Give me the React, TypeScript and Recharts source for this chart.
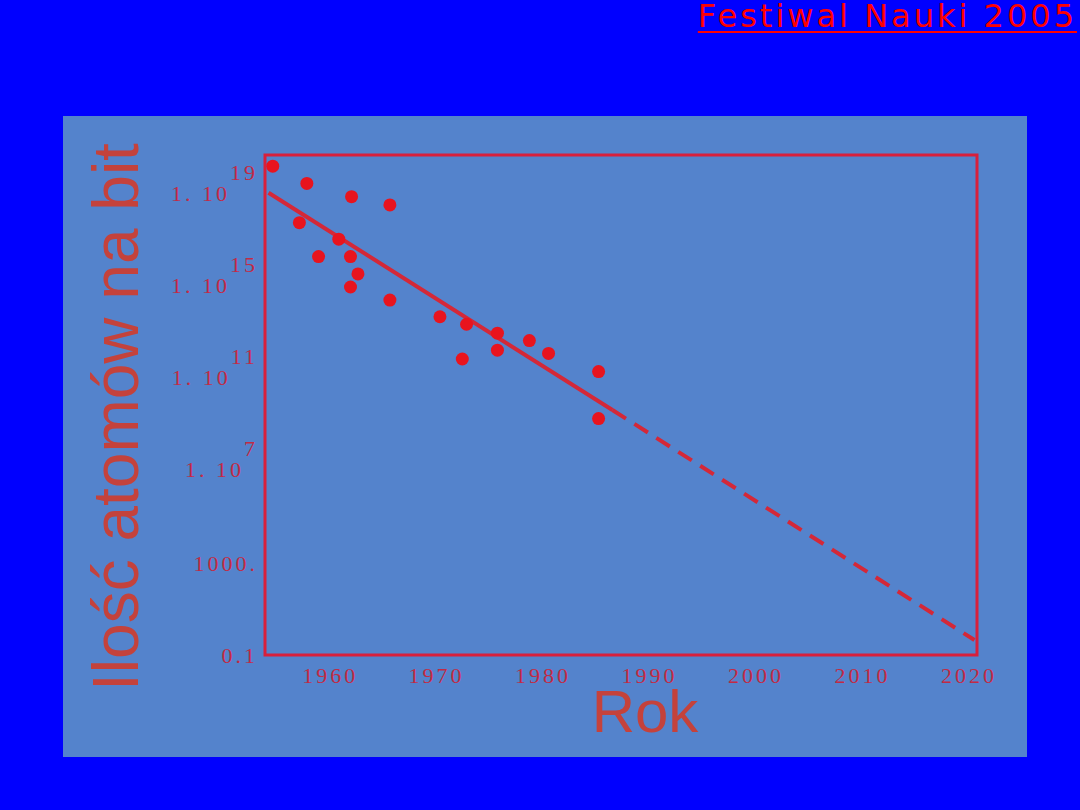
import {
  ComposedChart,
  Line,
  ReferenceArea,
  Scatter,
  XAxis,
  YAxis,
} from "recharts";

// measured storage densities (year, atoms per bit)
const measuredYears = [
  1954.8, 1958.0, 1962.2, 1965.8, 1957.3, 1961.0, 1959.1, 1962.1, 1962.8, 1962.1,
  1965.8, 1970.5, 1973.0, 1975.9, 1978.9, 1975.9, 1980.7, 1972.6, 1985.4, 1985.4,
];
const measuredAtoms = [
  1.8e20, 3.2e19, 8.5e18, 3.7e18, 6.3e17, 1.2e17, 2.1e16, 2.1e16, 3.7e15, 1.0e15,
  2.7e14, 5.1e13, 2.4e13, 9.8e12, 4.7e12, 1.8e12, 1.3e12, 7.4e11, 2.1e11, 1.9e9,
];

// fitted trend and its extrapolation
const trendYears = [1954.4, 1986.7];
const trendAtoms = [1.26e19, 4.5e9];
const projectionYears = [1986.7, 2020.7];
const projectionAtoms = [4.5e9, 0.45];

const yearTicks = [1960, 1970, 1980, 1990, 2000, 2010, 2020];
const atomTicks = [0.1, 1000, 1e7, 1e11, 1e15, 1e19];
const yearRange = [1954.07, 2020.94];
const atomRange = [0.1, 5.5e20];

const measured = measuredYears.map((year, i) => ({ year, atoms: measuredAtoms[i] }));
const trend = trendYears.map((year, i) => ({ year, atoms: trendAtoms[i] }));
const projection = projectionYears.map((year, i) => ({
  year,
  atoms: projectionAtoms[i],
}));

const RED = "#d8203c";
const TICK_RED = "#c22a44";
const TITLE_RED = "#c4423c";
const tickFont = "'Liberation Serif', serif";

function AtomTick({ x, y, payload }: { x?: number; y?: number; payload?: { value: number } }) {
  const v = payload?.value ?? 0;
  const right = (x ?? 0) - 7;
  const base = y ?? 0;
  const common = {
    fill: TICK_RED,
    fontFamily: tickFont,
    fontSize: 22,
    letterSpacing: 3,
    textAnchor: "end" as const,
  };
  if (v >= 1e6) {
    const exp = Math.round(Math.log10(v));
    return (
      <text x={right} y={base + 6} {...common}>
        <tspan>{"1.  10"}</tspan>
        <tspan dy={-21}>{exp}</tspan>
      </text>
    );
  }
  const label = v >= 1 ? `${v}.` : String(v);
  return (
    <text x={right} y={base + 8} {...common}>
      {label}
    </text>
  );
}

function YearTick({ x, y, payload }: { x?: number; y?: number; payload?: { value: number } }) {
  return (
    <text
      x={(x ?? 0) + 2}
      y={(y ?? 0) + 28}
      textAnchor="middle"
      fill={TICK_RED}
      fontFamily={tickFont}
      fontSize={22}
      letterSpacing={3}
    >
      {payload?.value}
    </text>
  );
}

export default function App() {
  return (
    <div
      style={{
        position: "fixed",
        left: 0,
        top: 0,
        width: 1080,
        height: 810,
        background: "#0000ff",
        overflow: "hidden",
      }}
    >
      <div
        style={{
          position: "absolute",
          right: 3,
          top: 1,
          color: "#ff0000",
          fontFamily: "'DejaVu Sans', sans-serif",
          fontSize: 32,
          lineHeight: "30px",
          letterSpacing: 3,
          textDecoration: "underline",
          textDecorationThickness: 2,
          textUnderlineOffset: 4,
          whiteSpace: "nowrap",
        }}
      >
        Festiwal Nauki 2005
      </div>
      <div
        style={{
          position: "absolute",
          left: 63,
          top: 116,
          width: 964,
          height: 641,
          background: "#5483cc",
        }}
      />
      <div style={{ position: "absolute", left: 0, top: 0 }}>
        <ComposedChart
          width={1080}
          height={810}
          margin={{ top: 155, right: 103, bottom: 95, left: 65 }}
        >
          <XAxis
            dataKey="year"
            type="number"
            domain={yearRange}
            allowDataOverflow
            ticks={yearTicks}
            tick={<YearTick />}
            tickSize={0}
            tickMargin={0}
            axisLine={false}
            height={60}
          />
          <YAxis
            dataKey="atoms"
            type="number"
            scale="log"
            domain={atomRange}
            allowDataOverflow
            ticks={atomTicks}
            tick={<AtomTick />}
            tickSize={0}
            tickMargin={0}
            axisLine={false}
            width={200}
          />
          <ReferenceArea
            x1={yearRange[0]}
            x2={yearRange[1]}
            y1={atomRange[0]}
            y2={atomRange[1]}
            fill="none"
            fillOpacity={0}
            stroke={RED}
            strokeWidth={3}
            ifOverflow="visible"
          />
          <Line
            data={trend}
            dataKey="atoms"
            stroke="#d42838"
            strokeWidth={4}
            dot={false}
            isAnimationActive={false}
          />
          <Line
            data={projection}
            dataKey="atoms"
            stroke="#d42838"
            strokeWidth={4}
            strokeDasharray="16 10"
            dot={false}
            isAnimationActive={false}
          />
          <Scatter
            data={measured}
            dataKey="atoms"
            fill="#e8141e"
            shape={(p: { cx?: number; cy?: number }) => (
              <circle cx={p.cx} cy={p.cy} r={6.5} fill="#e8141e" />
            )}
            isAnimationActive={false}
          />
        </ComposedChart>
      </div>
      <div
        style={{
          position: "absolute",
          left: 645,
          top: 690,
          transform: "translateX(-50%)",
          color: TITLE_RED,
          fontFamily: "'Liberation Sans', sans-serif",
          fontSize: 60,
          lineHeight: "44px",
          whiteSpace: "nowrap",
        }}
      >
        Rok
      </div>
      <div
        style={{
          position: "absolute",
          left: 116,
          top: 417,
          transform: "translate(-50%, -50%) rotate(-90deg)",
          color: TITLE_RED,
          fontFamily: "'Liberation Sans', sans-serif",
          fontSize: 64,
          lineHeight: 1,
          whiteSpace: "nowrap",
        }}
      >
        Ilość atomów na bit
      </div>
    </div>
  );
}
